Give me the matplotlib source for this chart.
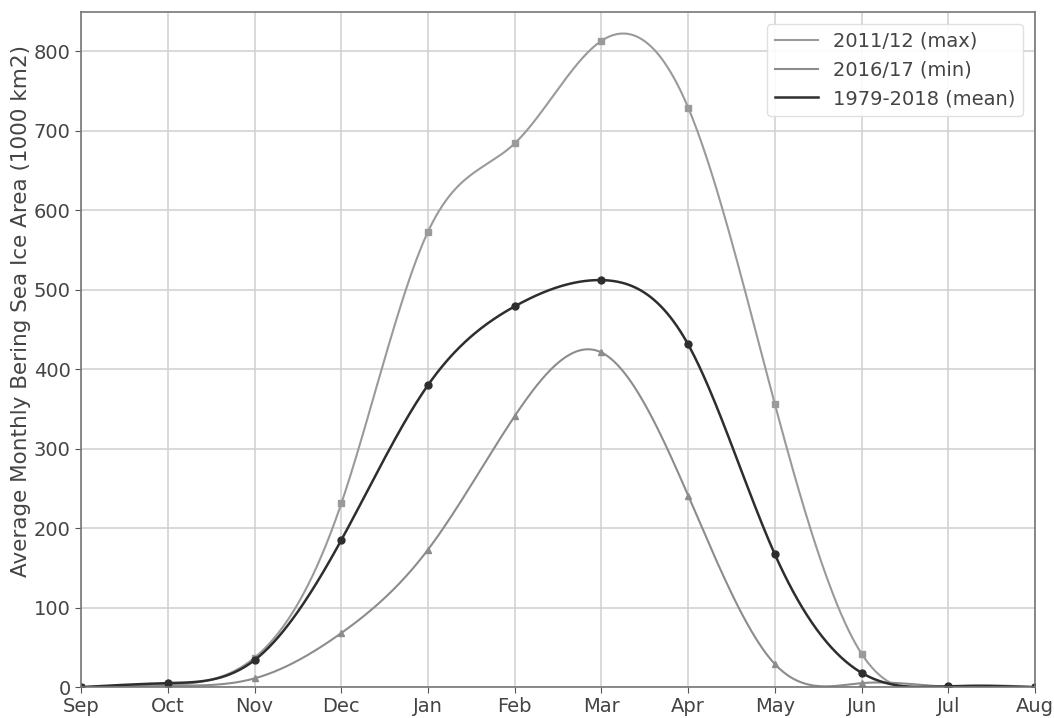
import numpy as np
import matplotlib
matplotlib.use("Agg")
import matplotlib.pyplot as plt

# monthly Bering sea ice area, 1000 km2
months = ["Sep", "Oct", "Nov", "Dec", "Jan", "Feb", "Mar", "Apr", "May", "Jun", "Jul", "Aug"]
max_1112 = [0, 3, 37, 231, 573, 684, 813, 729, 356, 42, 0, 0]
min_1617 = [0, 2, 11, 68, 173, 341, 421, 241, 29, 5, 0, 0]
mean_7918 = [0, 5, 34, 185, 380, 479, 512, 431, 167, 18, 1, 0]


def natural_spline(x, y, xs):
    # plain natural cubic spline, no scipy available
    x = np.asarray(x, float)
    y = np.asarray(y, float)
    n = len(x)
    h = np.diff(x)
    A = np.zeros((n, n))
    b = np.zeros(n)
    A[0, 0] = 1
    A[-1, -1] = 1
    for i in range(1, n - 1):
        A[i, i - 1] = h[i - 1]
        A[i, i] = 2 * (h[i - 1] + h[i])
        A[i, i + 1] = h[i]
        b[i] = 6 * ((y[i + 1] - y[i]) / h[i] - (y[i] - y[i - 1]) / h[i - 1])
    M = np.linalg.solve(A, b)
    idx = np.clip(np.searchsorted(x, xs) - 1, 0, n - 2)
    x0, x1 = x[idx], x[idx + 1]
    hh = x1 - x0
    t0, t1 = x1 - xs, xs - x0
    return (M[idx] * t0**3 / (6 * hh) + M[idx + 1] * t1**3 / (6 * hh)
            + (y[idx] / hh - M[idx] * hh / 6) * t0
            + (y[idx + 1] / hh - M[idx + 1] * hh / 6) * t1)


x = np.arange(len(months))
xs = np.linspace(0, len(months) - 1, 600)

plt.rcParams["font.family"] = "DejaVu Sans"
fig, ax = plt.subplots(figsize=(10.54, 7.18), dpi=100)

series = [
    (max_1112, "2011/12 (max)", "#9a9a9a", "s", 1.5),
    (min_1617, "2016/17 (min)", "#8c8c8c", "^", 1.5),
    (mean_7918, "1979-2018 (mean)", "#2e2e2e", "o", 1.8),
]
for vals, label, col, mk, lw in series:
    ax.plot(xs, natural_spline(x, vals, xs), color=col, lw=lw, label=label)
    ax.plot(x, vals, linestyle="none", marker=mk, color=col, markersize=5)

ax.set_xlim(0, len(months) - 1)
ax.set_ylim(0, 849)
ax.set_xticks(x)
ax.set_xticklabels(months)
ax.set_yticks(range(0, 801, 100))
ax.set_ylabel("Average Monthly Bering Sea Ice Area (1000 km2)", fontsize=15.5, color="#444444")
ax.yaxis.set_label_coords(-0.053, 0.558)
ax.tick_params(labelsize=14, colors="#444444", length=4, color="#555555")
ax.tick_params(axis="x", pad=3)
ax.grid(True, color="#d0d0d0", lw=1.1)
for s in ax.spines.values():
    s.set_color("#777777")
    s.set_linewidth(1.2)

leg = ax.legend(loc="upper right", fontsize=14, framealpha=0.9, edgecolor="#dddddd",
                handlelength=2.2, labelcolor="#444444", borderaxespad=0.6)

fig.subplots_adjust(left=0.077, right=0.982, top=0.983, bottom=0.043)
fig.savefig("out.png", dpi=100)
